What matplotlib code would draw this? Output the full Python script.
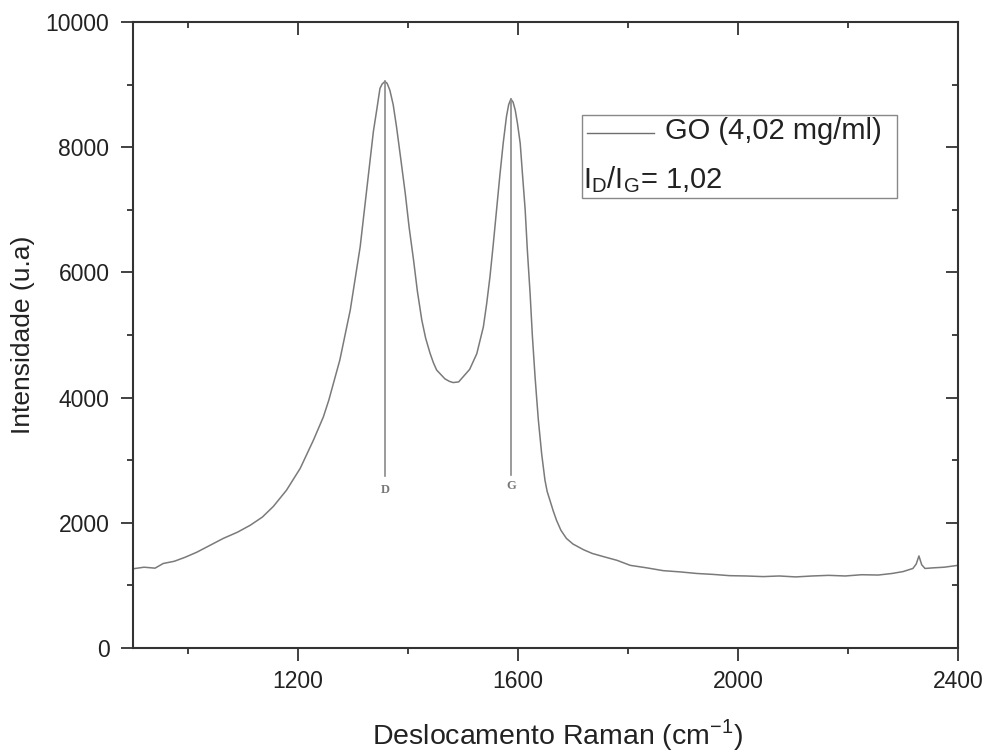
import matplotlib
matplotlib.use("Agg")
import matplotlib.pyplot as plt
from matplotlib.patches import Rectangle

plt.rcParams['font.family'] = ['Liberation Sans', 'DejaVu Sans']
plt.rcParams['mathtext.fontset'] = 'custom'
plt.rcParams['mathtext.rm'] = 'Liberation Sans'

# Raman spectrum
shift = [900, 920, 940, 955, 975, 995, 1016, 1040, 1064, 1090, 1113, 1135, 1155,
         1179, 1204, 1228, 1246, 1256, 1276, 1295, 1313, 1331, 1337, 1343, 1349,
         1353, 1358, 1362, 1367, 1373, 1379, 1387, 1395, 1402, 1410, 1417, 1425,
         1432, 1440, 1446, 1452, 1467, 1475, 1482, 1492, 1500, 1512, 1525, 1537,
         1543, 1549, 1555, 1561, 1567, 1573, 1579, 1583, 1587, 1591, 1595, 1599,
         1604, 1608, 1613, 1617, 1622, 1626, 1631, 1634, 1637, 1643, 1649, 1653,
         1658, 1664, 1670, 1678, 1688, 1700, 1719, 1735, 1755, 1780, 1804, 1834,
         1864, 1895, 1925, 1955, 1985, 2015, 2046, 2075, 2105, 2135, 2165, 2195,
         2225, 2255, 2280, 2300, 2318, 2324, 2329, 2334, 2340, 2355, 2375, 2400]
intensity = [1265, 1290, 1275, 1350, 1385, 1450, 1530, 1640, 1750, 1850, 1960, 2090, 2260,
             2520, 2870, 3320, 3690, 3960, 4600, 5400, 6410, 7790, 8250, 8590, 8940,
             9010, 9050, 9020, 8910, 8680, 8330, 7800, 7260, 6720, 6200, 5700, 5240,
             4950, 4710, 4560, 4440, 4300, 4260, 4240, 4250, 4330, 4450, 4700, 5130,
             5500, 5930, 6450, 7000, 7550, 8060, 8490, 8680, 8770, 8720, 8590, 8380,
             8060, 7580, 7000, 6350, 5660, 5000, 4330, 3980, 3640, 3100, 2680, 2500,
             2360, 2190, 2040, 1880, 1750, 1660, 1570, 1510, 1460, 1400, 1320, 1280,
             1235, 1215, 1190, 1175, 1155, 1150, 1140, 1150, 1135, 1150, 1160, 1150,
             1170, 1165, 1190, 1220, 1270, 1340, 1470, 1330, 1270, 1280, 1290, 1320]

# peak markers
peak_pos = [1358, 1587]
peak_top = [9050, 8770]
peak_bottom = [2740, 2760]
peak_label_y = [2520, 2580]
peak_names = ['D', 'G']

legend_label = 'GO (4,02 mg/ml)'
ratio_text = r'$\mathregular{I_D/I_G}$= 1,02'

spine_color = '#333333'
curve_color = '#7a7a7a'

fig = plt.figure(figsize=(9.87, 7.51), dpi=100)
ax = fig.add_axes([0.1348, 0.1372, 0.8358, 0.8335])

ax.plot(shift, intensity, color=curve_color, lw=1.1)

for xp, yt, yb, yl, nm in zip(peak_pos, peak_top, peak_bottom, peak_label_y, peak_names):
    ax.plot([xp, xp], [yb, yt], color='#8a8a8a', lw=1.2)
    ax.text(xp, yl, nm, family=['Liberation Serif', 'DejaVu Serif'], fontsize=9,
            color='#777777', ha='center', va='center', fontweight='bold')

ax.set_xlim(900, 2400)
ax.set_ylim(0, 10000)
ax.set_xticks([1200, 1600, 2000, 2400])
ax.set_xticks([1000, 1400, 1800, 2200], minor=True)
ax.set_yticks([0, 2000, 4000, 6000, 8000, 10000])
ax.set_yticks([1000, 3000, 5000, 7000, 9000], minor=True)

ax.tick_params(which='major', direction='out', length=9, width=1.3, color=spine_color,
               labelsize=16.5, labelcolor='#222222', pad=7)
ax.tick_params(which='minor', direction='out', length=4.5, width=1.3, color=spine_color)
ax.tick_params(axis='y', pad=8)
for s in ax.spines.values():
    s.set_linewidth(1.5)
    s.set_color(spine_color)

# inward ticks on top and right
top = ax.secondary_xaxis('top')
top.set_xticks([1200, 1600, 2000, 2400])
top.set_xticks([1000, 1400, 1800, 2200], minor=True)
top.tick_params(which='major', direction='in', length=9, width=1.3, color=spine_color, labeltop=False)
top.tick_params(which='minor', direction='in', length=4.5, width=1.3, color=spine_color)
right = ax.secondary_yaxis('right')
right.set_yticks([0, 2000, 4000, 6000, 8000, 10000])
right.set_yticks([1000, 3000, 5000, 7000, 9000], minor=True)
right.tick_params(which='major', direction='in', length=9, width=1.3, color=spine_color, labelright=False)
right.tick_params(which='minor', direction='in', length=4.5, width=1.3, color=spine_color)
for sec in (top, right):
    for s in sec.spines.values():
        s.set_visible(False)

ax.set_xlabel('Deslocamento Raman (cm$^{\\mathregular{-1}}$)', fontsize=20.5, color='#222222', labelpad=10)
ax.xaxis.set_label_coords(0.515, -0.11)
ax.set_ylabel('Intensidade (u.a)', fontsize=19, color='#222222', labelpad=8)

# legend box
ax.add_patch(Rectangle((0.544, 0.719), 0.382, 0.132, transform=ax.transAxes,
                       fill=False, edgecolor='#888888', lw=1.0))
ax.plot([0.550, 0.631], [0.823, 0.823], transform=ax.transAxes, color='#6e6e6e', lw=1.0)
ax.text(0.645, 0.826, legend_label, transform=ax.transAxes, fontsize=21,
        color='#222222', va='center', ha='left')
ax.text(0.5455, 0.748, ratio_text, transform=ax.transAxes, fontsize=21,
        color='#222222', va='center', ha='left')

fig.savefig('out.png', dpi=100)
